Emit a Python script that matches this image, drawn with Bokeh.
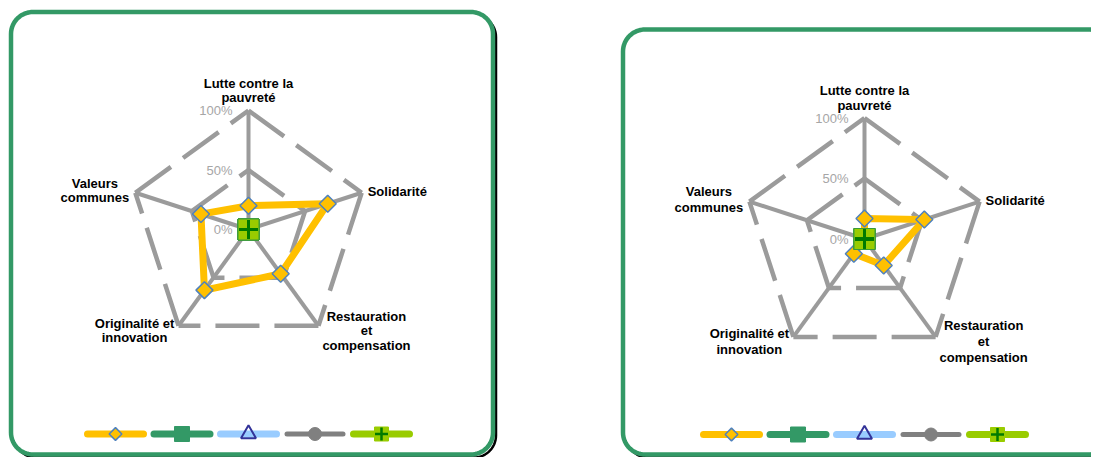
import numpy as np
from bokeh.plotting import figure
from bokeh.models import Range1d
from bokeh.embed import file_html
from bokeh.resources import INLINE
from bokeh.core.properties import value

# ---------------- data ----------------
categories = ["Lutte contre la\npauvreté", "Solidarité", "Restauration\net\ncompensation",
              "Originalité et\ninnovation", "Valeurs\ncommunes"]
level_values = [0.0, 0.5, 1.0]
level_labels = ["0%", "50%", "100%"]

# chart 1 (left)
left_s1 = [0.20, 0.70, 0.46, 0.63, 0.42]
left_s2 = [0.0, 0.0, 0.0, 0.0, 0.0]
left_s3 = [0.0, 0.0, 0.0, 0.0, 0.0]
left_s4 = [0.0, 0.0, 0.0, 0.0, 0.0]
left_s5 = [0.0, 0.0, 0.0, 0.0, 0.0]

# chart 2 (right)
right_s1 = [0.17, 0.52, 0.27, 0.15, 0.0]
right_s2 = [0.0, 0.0, 0.0, 0.0, 0.0]
right_s3 = [0.0, 0.0, 0.0, 0.0, 0.0]
right_s4 = [0.0, 0.0, 0.0, 0.0, 0.0]
right_s5 = [0.0, 0.0, 0.0, 0.0, 0.0]

# ---------------- styles ----------------
FONT = value("Liberation Sans")
GRID = "#9B9B9B"
BORDER = "#339966"
ORANGE, DKGREEN, LTBLUE, GRAY, LIME = "#FFC000", "#339966", "#99CCFF", "#808080", "#99CC00"

W, H = 1091, 457
p = figure(width=W, height=H, output_backend="svg", toolbar_location=None,
           x_range=Range1d(0, W), y_range=Range1d(H, 0), min_border=0)
p.axis.visible = False
p.grid.visible = False
p.outline_line_color = None
p.background_fill_color = "white"
p.border_fill_color = "white"

angles = np.deg2rad([90, 18, -54, -126, -198])


def rounded_rect(x0, y0, x1, y1, r, n=16):
    xs, ys = [], []
    for (cx, cy, a0) in [(x1 - r, y0 + r, -90), (x1 - r, y1 - r, 0),
                         (x0 + r, y1 - r, 90), (x0 + r, y0 + r, 180)]:
        t = np.deg2rad(np.linspace(a0, a0 + 90, n))
        xs += list(cx + r * np.cos(t))
        ys += list(cy + r * np.sin(t))
    return xs, ys


def box(x0, y0, x1, y1):
    sx, sy = rounded_rect(x0 + 3, y0 + 3, x1 + 3, y1 + 3, 22)
    p.patch(sx + [sx[0]], sy + [sy[0]], fill_color=None, line_color="black", line_width=2.5)
    bx, by = rounded_rect(x0, y0, x1, y1, 22)
    p.patch(bx, by, fill_color="white", line_color=BORDER, line_width=4.5)


def pt(cx, cy, R, vals):
    v = np.asarray(vals, dtype=float)
    return list(cx + v * R * np.cos(angles)), list(cy - v * R * np.sin(angles))


def radar(cx, cy, R, series, line_h):
    # spokes
    for a in angles:
        p.line([cx, cx + R * np.cos(a)], [cy, cy - R * np.sin(a)], line_color=GRID, line_width=4)
    # rings (dashed, each edge restarting the dash pattern)
    for lv in level_values[1:]:
        xs, ys = pt(cx, cy, R, [lv] * 5)
        exs = [[xs[i], xs[(i + 1) % 5]] for i in range(5)]
        eys = [[ys[i], ys[(i + 1) % 5]] for i in range(5)]
        p.multi_line(exs, eys, line_color=GRID, line_width=4.5, line_dash="44 15")
    # level labels
    p.text([cx - 16] * 3, [cy - lv * R for lv in level_values], text=level_labels,
           text_align="right", text_baseline="middle", text_font=FONT,
           text_font_size="13px", text_color="#A6A6A6")
    # category labels
    vx, vy = pt(cx, cy, R, [1.0] * 5)
    offs = [(0, -20), (6, -1), (48, 5), (-44, 4.5), (-40.5, -2)]
    aligns = ["center", "left", "center", "center", "center"]
    for i in range(5):
        p.text([vx[i] + offs[i][0]], [vy[i] + offs[i][1]], text=[categories[i]],
               text_align=aligns[i], text_baseline="middle", text_font=FONT,
               text_font_style="bold", text_font_size="13px", text_color="black",
               text_line_height=line_h)
    s1, s2, s3, s4, s5 = series
    # series 2-4 lines (all at centre)
    for vals, col in [(s2, DKGREEN), (s3, LTBLUE), (s4, GRAY)]:
        xs, ys = pt(cx, cy, R, vals)
        p.line(xs + xs[:1], ys + ys[:1], line_color=col, line_width=6)
    # series 1
    xs, ys = pt(cx, cy, R, s1)
    p.line(xs + xs[:1], ys + ys[:1], line_color=ORANGE, line_width=7, line_join="miter")
    p.scatter(xs, ys, marker="square", angle=np.pi / 4, size=12, fill_color=ORANGE,
              line_color="#4F81BD", line_width=1.5)
    xs, ys = pt(cx, cy, R, s2)
    p.scatter(xs, ys, marker="square", size=14, fill_color=DKGREEN, line_color=DKGREEN)
    xs, ys = pt(cx, cy, R, s3)
    p.scatter(xs, ys, marker="triangle", size=14, fill_color=None, line_color="#333399", line_width=2)
    xs, ys = pt(cx, cy, R, s4)
    p.scatter(xs, ys, marker="circle", size=13, fill_color=GRAY, line_color=GRAY)
    xs, ys = pt(cx, cy, R, s5)
    p.scatter(xs, ys, marker="square", size=21, fill_color=LIME, line_color="#3A9A3A", line_width=1)
    p.scatter(xs, ys, marker="cross", size=19, line_color="#007A00", line_width=3)


def legend(cx, ly):
    styles = [(ORANGE, 7), (DKGREEN, 7), (LTBLUE, 7), (GRAY, 5), (LIME, 7)]
    lxs = [cx + (i - 2) * 66.5 for i in range(5)]
    for lx, (col, w) in zip(lxs, styles):
        p.line([lx - 28, lx + 28], [ly, ly], line_color=col, line_width=w, line_cap="round")
    p.scatter([lxs[0]], [ly], marker="square", angle=np.pi / 4, size=9, fill_color=ORANGE,
              line_color="#4F81BD", line_width=1.5)
    p.scatter([lxs[1]], [ly], marker="square", size=15, fill_color=DKGREEN, line_color=DKGREEN)
    p.scatter([lxs[2]], [ly], marker="triangle", size=15, fill_color=None, line_color="#333399", line_width=2)
    p.scatter([lxs[3]], [ly], marker="circle", size=13, fill_color=GRAY, line_color=GRAY)
    p.scatter([lxs[4]], [ly], marker="square", size=14, fill_color=LIME, line_color=LIME)
    p.scatter([lxs[4]], [ly], marker="cross", size=13, line_color="#007A00", line_width=2.5)


box(10.5, 11.5, 492.5, 454)
box(622.5, 29, 1110, 454)

radar(248, 229, 119, [left_s1, left_s2, left_s3, left_s4, left_s5], 0.955)
radar(864, 238.5, 121, [right_s1, right_s2, right_s3, right_s4, right_s5], 1.06)
legend(248, 433.5)
legend(864, 434)

open("out.html", "w").write(file_html(p, INLINE))
